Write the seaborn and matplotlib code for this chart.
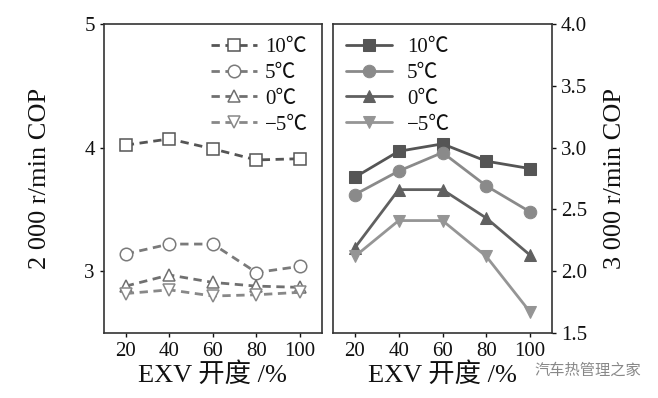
import matplotlib
matplotlib.use("Agg")
import matplotlib.pyplot as plt
import seaborn as sns
import pandas as pd

sns.set_theme(style="white")
plt.rcParams['font.family'] = ['Liberation Serif', 'Noto Sans CJK SC', 'DejaVu Sans']
plt.rcParams['mathtext.fontset'] = 'stix'

opening = [20, 40, 60, 80, 100]
series = ["10℃", "5℃", "0℃", "−5℃"]

cop_2000_10 = [4.02, 4.07, 3.99, 3.90, 3.91]
cop_2000_5 = [3.14, 3.22, 3.22, 2.99, 3.04]
cop_2000_0 = [2.88, 2.97, 2.91, 2.88, 2.87]
cop_2000_m5 = [2.82, 2.85, 2.80, 2.81, 2.83]

cop_3000_10 = [2.76, 2.97, 3.03, 2.89, 2.83]
cop_3000_5 = [2.62, 2.81, 2.96, 2.69, 2.48]
cop_3000_0 = [2.19, 2.66, 2.66, 2.43, 2.13]
cop_3000_m5 = [2.12, 2.41, 2.41, 2.12, 1.67]

left_vals = [cop_2000_10, cop_2000_5, cop_2000_0, cop_2000_m5]
right_vals = [cop_3000_10, cop_3000_5, cop_3000_0, cop_3000_m5]
markers = ["s", "o", "^", "v"]
left_colors = ["#555555", "#7a7a7a", "#707070", "#888888"]
right_colors = ["#555555", "#8a8a8a", "#606060", "#959595"]

fig = plt.figure(figsize=(6.58, 3.98), dpi=100)
axL = fig.add_axes([0.158, 0.163, 0.331, 0.777])
axR = fig.add_axes([0.506, 0.163, 0.333, 0.777])

for name, vals, m, c in zip(series, left_vals, markers, left_colors):
    df = pd.DataFrame({"x": opening, "y": vals})
    sns.lineplot(data=df, x="x", y="y", ax=axL, color=c, linestyle=(0, (3, 2)),
                 linewidth=2.0, marker=m, markersize=9, markerfacecolor="white",
                 markeredgecolor=c, markeredgewidth=1.1, label=name)

for name, vals, m, c in zip(series, right_vals, markers, right_colors):
    df = pd.DataFrame({"x": opening, "y": vals})
    sns.lineplot(data=df, x="x", y="y", ax=axR, color=c, linestyle="-",
                 linewidth=2.0, marker=m, markersize=9, markerfacecolor=c,
                 markeredgecolor=c, label=name)

for ax in (axL, axR):
    ax.set_xlim(10, 110)
    ax.set_xticks(opening)
    ax.tick_params(axis="both", labelsize=15, colors="#111111", direction="out",
                   length=3, width=1)
    for s in ax.spines.values():
        s.set_color("#333333")
        s.set_linewidth(1.2)
    ax.set_xlabel("EXV 开度 /%", fontsize=19, color="#111111", labelpad=1)
    ax.grid(False)

axL.set_ylim(2.5, 5.0)
axL.set_yticks([3, 4, 5])
axL.set_ylabel("2 000 r/min COP", fontsize=19, color="#111111", labelpad=24)
axL.tick_params(axis="y", left=True)
axL.tick_params(axis="x", bottom=True)

axR.set_ylim(1.5, 4.0)
axR.set_yticks([1.5, 2.0, 2.5, 3.0, 3.5, 4.0])
axR.set_yticklabels(["1.5", "2.0", "2.5", "3.0", "3.5", "4.0"])
axR.yaxis.tick_right()
axR.yaxis.set_label_position("right")
axR.tick_params(axis="y", right=True, left=False)
axR.tick_params(axis="x", bottom=True)
axR.set_ylabel("3 000 r/min COP", fontsize=19, color="#111111", labelpad=12)

legL = axL.legend(loc="upper right", frameon=False, fontsize=15, handlelength=2.2,
                  handletextpad=0.4, labelspacing=0.3, borderaxespad=0.25)
legR = axR.legend(loc="upper left", frameon=False, fontsize=15, handlelength=2.2,
                  handletextpad=0.7, labelspacing=0.3, borderaxespad=0.25)
for t in list(legL.get_texts()) + list(legR.get_texts()):
    t.set_color("#111111")

fig.text(0.975, 0.07, "汽车热管理之家", fontsize=11, color="#888888", ha="right",
         va="center", family=["Noto Sans CJK SC", "DejaVu Sans"])

fig.savefig("out.png", dpi=100)
